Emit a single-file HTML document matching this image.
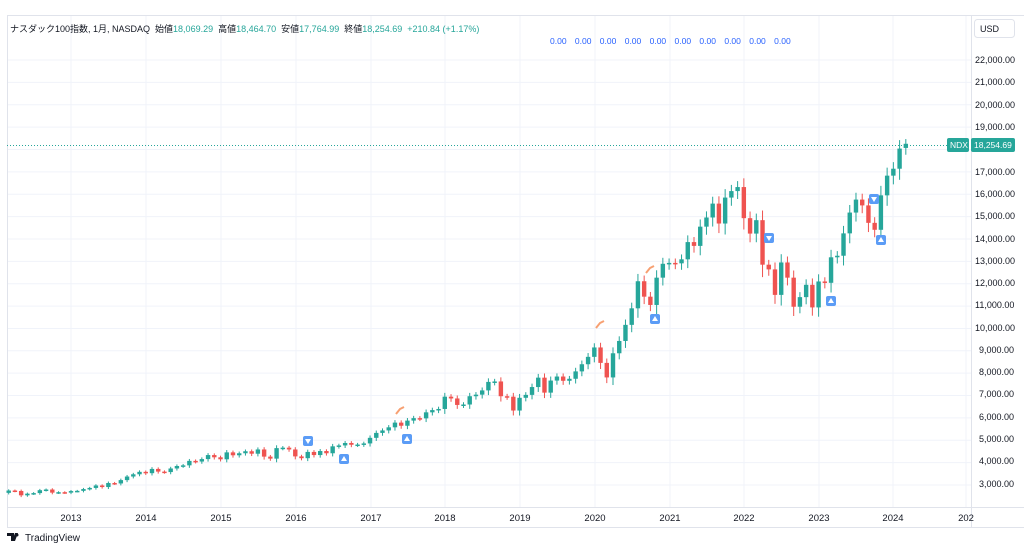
<!DOCTYPE html>
<html><head><meta charset="utf-8"><style>
body{margin:0;background:#fff;width:1024px;height:550px;overflow:hidden;font-family:"Liberation Sans","Noto Sans CJK JP",sans-serif}
svg text{font-family:"Liberation Sans","Noto Sans CJK JP",sans-serif}
</style></head><body>
<svg id="s" width="1024" height="550" xmlns="http://www.w3.org/2000/svg">
<rect x="0" y="0" width="1024" height="550" fill="#fff"/>
<g id="grid" stroke="#f0f3fa" stroke-width="1"></g>
<line x1="971.5" y1="15" x2="971.5" y2="527" stroke="#e0e3eb"/>
<line x1="7" y1="507.5" x2="1024" y2="507.5" stroke="#e0e3eb"/>
<line x1="7" y1="527.5" x2="1024" y2="527.5" stroke="#e0e3eb"/>
<line x1="7.5" y1="15" x2="7.5" y2="527" stroke="#e0e3eb"/>
<line x1="7" y1="15.5" x2="1024" y2="15.5" stroke="#e0e3eb"/>
<g id="ylab" font-size="9" fill="#131722">
<text x="975" y="63">22,000.00</text><text x="975" y="85">21,000.00</text><text x="975" y="108">20,000.00</text><text x="975" y="130">19,000.00</text><text x="975" y="175">17,000.00</text><text x="975" y="197">16,000.00</text><text x="975" y="219">15,000.00</text><text x="975" y="242">14,000.00</text><text x="975" y="264">13,000.00</text><text x="975" y="286">12,000.00</text><text x="975" y="308">11,000.00</text><text x="975" y="331">10,000.00</text><text x="979" y="353">9,000.00</text><text x="979" y="375">8,000.00</text><text x="979" y="397">7,000.00</text><text x="979" y="420">6,000.00</text><text x="979" y="442">5,000.00</text><text x="979" y="464">4,000.00</text><text x="979" y="487">3,000.00</text>
</g>
<g font-size="9.5" fill="#131722" text-anchor="middle">
<text x="71" y="521">2013</text><text x="146" y="521">2014</text><text x="221" y="521">2015</text><text x="296" y="521">2016</text><text x="371" y="521">2017</text><text x="445" y="521">2018</text><text x="520" y="521">2019</text><text x="595" y="521">2020</text><text x="670" y="521">2021</text><text x="744" y="521">2022</text><text x="819" y="521">2023</text><text x="893" y="521">2024</text><text x="966" y="521">202</text>
</g>
<rect x="974.5" y="19.5" width="40" height="18" rx="3" fill="#fff" stroke="#e0e3eb"/>
<text x="980" y="32" font-size="9" fill="#131722">USD</text>
<text x="10" y="32" font-size="9" fill="#131722">ナスダック100指数, 1月, NASDAQ &#160;始値<tspan fill="#26a69a">18,069.29</tspan> &#160;高値<tspan fill="#26a69a">18,464.70</tspan> &#160;安値<tspan fill="#26a69a">17,764.99</tspan> &#160;終値<tspan fill="#26a69a">18,254.69 &#160;+210.84 (+1.17%)</tspan></text>
<text x="550" y="44" font-size="8.5" fill="#2962ff" word-spacing="6">0.00 0.00 0.00 0.00 0.00 0.00 0.00 0.00 0.00 0.00</text>
<line x1="7" y1="145.5" x2="948" y2="145.5" stroke="#26a69a" stroke-dasharray="1,2"/>
<g id="c"></g>
<g id="m"></g>
<rect x="947" y="138" width="22" height="14" rx="2" fill="#26a69a"/>
<text x="950" y="148" font-size="8.5" fill="#fff">NDX</text>
<rect x="971" y="138" width="44" height="14" rx="2" fill="#26a69a"/>
<text x="974" y="148" font-size="8.5" fill="#fff">18,254.69</text>
<path d="M7,533 h7 v8 h-3 v-5 h-4 z M15,533 h3 l-3,8 h-3 z M19,533 l-1,0" fill="#131722"/>
<circle cx="17" cy="535" r="1.5" fill="#131722"/>
<text x="25" y="541" font-size="10" fill="#131722">TradingView</text>
</svg>
<script>
const NS="http://www.w3.org/2000/svg";
function el(p,t,a){const e=document.createElementNS(NS,t);for(const k in a)e.setAttribute(k,a[k]);p.appendChild(e);return e;}
const Y=v=>60+(22000-v)*0.02237;
const g=document.getElementById('grid');
for(let v=3000;v<=22000;v+=1000)el(g,'line',{x1:7,x2:971,y1:Y(v),y2:Y(v)});
[71,146,221,296,371,445,520,595,670,744,819,893,966].forEach(x=>el(g,'line',{x1:x,x2:x,y1:15,y2:507}));
const closes=[2755,2735,2540,2615,2640,2770,2800,2660,2680,2660,
2730,2740,2820,2870,2980,2910,3090,3070,3220,3380,3480,3590,
3530,3720,3600,3580,3740,3850,3880,4080,4050,4160,4340,4240,
4150,4460,4330,4420,4510,4400,4590,4270,4180,4650,4670,4590,
4280,4200,4480,4340,4520,4420,4730,4770,4880,4800,4810,4860,
5110,5330,5440,5580,5790,5650,5880,5990,5980,6250,6350,6400,
6950,6870,6580,6600,6970,7040,7230,7610,7630,6970,6950,6330,
6900,7030,7380,7800,7130,7670,7850,7660,7750,8080,8400,8730,
9150,8460,7810,8890,9440,10160,10900,12110,11420,11050,12270,12890,
12930,12910,13090,13860,13690,14550,14960,15580,14690,15850,16140,16320,
14930,14240,14840,12850,12640,11500,12950,12270,10970,11400,11950,10940,
12100,12040,13180,13250,14250,15180,15760,15500,14720,14410,15950,16830,
17140,18040,18255];
const c=document.getElementById('c');
let prev=2650;
closes.forEach((cl,i)=>{
 const x=71+(i-10)*6.23;
 let o=prev; if(i==closes.length-1)o=18069;
 const up=cl>=o,col=up?'#26a69a':'#ef5350';
 const r=Math.abs(cl-o);
 let hi=Math.max(o,cl)+r*0.12+cl*0.015,lo=Math.min(o,cl)-r*0.15-cl*0.02;
 if(i==closes.length-1){hi=18465;lo=17765;}
 el(c,'line',{x1:x,x2:x,y1:Y(hi),y2:Y(lo),stroke:col,'stroke-width':1});
 const y1=Y(Math.max(o,cl)),y2=Y(Math.min(o,cl));
 el(c,'rect',{x:x-2.2,y:y1,width:4.4,height:Math.max(1.5,y2-y1),fill:col});
 prev=cl;
});
const m=document.getElementById('m');
[[308,441,0],[344,459,1],[407,439,1],[655,319,1],[769,238,0],[831,301,1],[874,199,0],[881,240,1]].forEach(([x,y,u])=>{
 el(m,'rect',{x:x-5,y:y-5,width:10,height:10,rx:2,fill:'#5b9cf6'});
 el(m,'polygon',{points:u?`${x-3},${y+2} ${x+3},${y+2} ${x},${y-3}`:`${x-3},${y-2} ${x+3},${y-2} ${x},${y+3}`,fill:'#fff'});
});
[[400,411],[600,325],[650,270]].forEach(([x,y])=>{
 el(m,'path',{d:`M${x-4},${y+3} L${x},${y-2} L${x+4},${y-4}`,stroke:'#f7a072','stroke-width':2,fill:'none'});
});
</script>
</body></html>
